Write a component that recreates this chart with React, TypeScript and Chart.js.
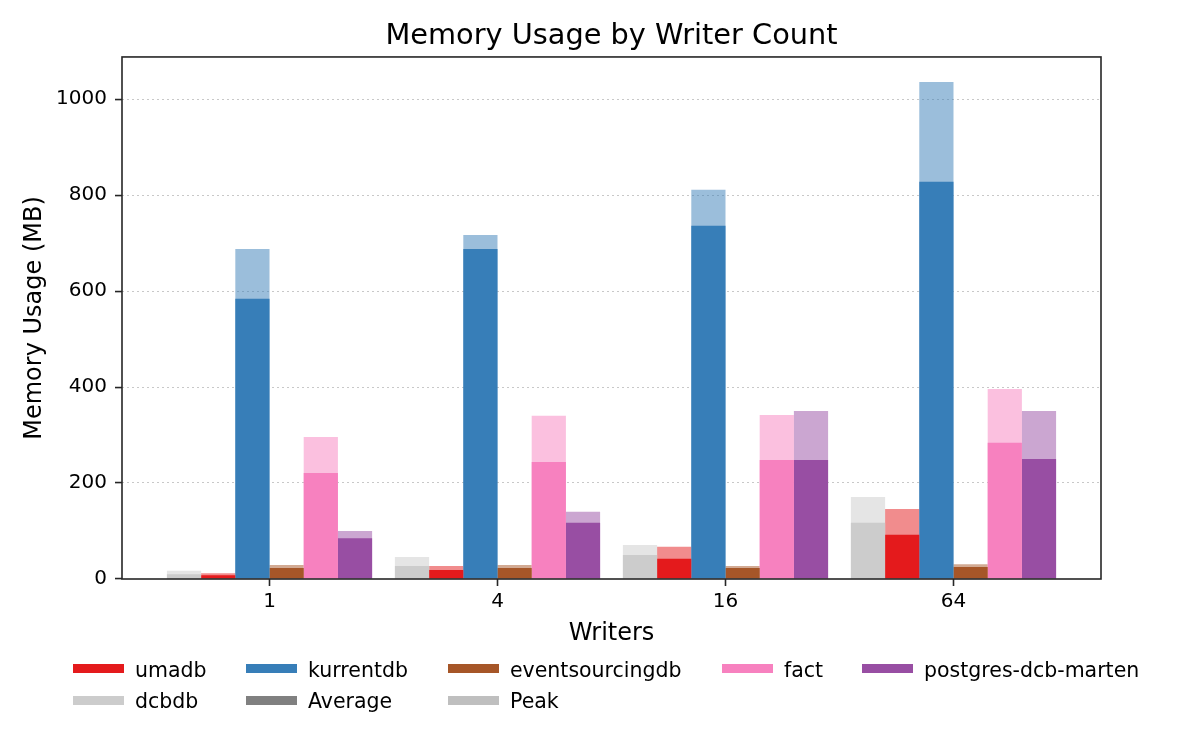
import React, { useEffect, useRef } from "react";
import { Chart, registerables } from "chart.js";

Chart.register(...registerables);

// x categories (writer count)
const writers = ["1", "4", "16", "64"];

// series, in bar order inside each group
const seriesNames = ["dcbdb", "umadb", "kurrentdb", "eventsourcingdb", "fact", "postgres-dcb-marten"];

// memory usage in MB, average and peak
const dcbdbAvg = [10, 27, 50, 117];
const dcbdbPeak = [17, 46, 71, 171];
const umadbAvg = [8, 19, 42, 92];
const umadbPeak = [12, 27, 67, 146];
const kurrentdbAvg = [584, 688, 736, 828];
const kurrentdbPeak = [688, 717, 811, 1036];
const eventsourcingdbAvg = [23, 23, 23, 25];
const eventsourcingdbPeak = [29, 29, 27, 31];
const factAvg = [221, 244, 248, 284];
const factPeak = [296, 340, 342, 396];
const martenAvg = [85, 117, 248, 250];
const martenPeak = [100, 140, 350, 350];

const yTicks = [0, 200, 400, 600, 800, 1000];

const avgValues = [dcbdbAvg, umadbAvg, kurrentdbAvg, eventsourcingdbAvg, factAvg, martenAvg];
const peakValues = [dcbdbPeak, umadbPeak, kurrentdbPeak, eventsourcingdbPeak, factPeak, martenPeak];

// rgb triplets for each series (Set1-ish palette)
const seriesColors = ["204, 204, 204", "228, 26, 28", "55, 126, 184", "166, 86, 40", "247, 129, 191", "152, 78, 163"];

// legend, laid out in matplotlib's 5 columns
const legendColumns = [73, 246, 448, 722, 862];
const legendRows = [
	[
		{ label: "umadb", color: "rgb(228, 26, 28)" },
		{ label: "kurrentdb", color: "rgb(55, 126, 184)" },
		{ label: "eventsourcingdb", color: "rgb(166, 86, 40)" },
		{ label: "fact", color: "rgb(247, 129, 191)" },
		{ label: "postgres-dcb-marten", color: "rgb(152, 78, 163)" },
	],
	[
		{ label: "dcbdb", color: "rgb(204, 204, 204)" },
		{ label: "Average", color: "#808080" },
		{ label: "Peak", color: "#bfbfbf" },
	],
];

const FONT = "'DejaVu Sans', 'Liberation Sans', sans-serif";
const AXIS_COLOR = "#262626";

// draws the full box around the plot area like matplotlib's spines
const framePlugin = {
	id: "frame",
	afterDatasetsDraw(chart: any) {
		const { ctx, chartArea: a } = chart;
		ctx.save();
		ctx.strokeStyle = AXIS_COLOR;
		ctx.lineWidth = 1.6;
		ctx.strokeRect(a.left, a.top, a.right - a.left, a.bottom - a.top);
		ctx.restore();
	},
};

function MemoryChart() {
	const canvasRef = useRef<HTMLCanvasElement>(null);
	const chartInstance = useRef<Chart | null>(null);

	useEffect(() => {
		if (chartInstance.current) {
			chartInstance.current.destroy();
			chartInstance.current = null;
		}
		if (!canvasRef.current) return;
		const ctx = canvasRef.current.getContext("2d");
		if (!ctx) return;

		Chart.defaults.font.family = FONT;

		const toPoints = (vals: number[]) => vals.map((y, i) => ({ x: i, y }));

		// average bars first so they are drawn on top of the peaks
		const avgSets = seriesNames.map((name, s) => ({
			label: name + " average",
			data: toPoints(avgValues[s]),
			backgroundColor: `rgb(${seriesColors[s]})`,
			stack: name,
			borderWidth: 0,
		}));
		const peakSets = seriesNames.map((name, s) => ({
			label: name + " peak",
			data: toPoints(peakValues[s]),
			backgroundColor: `rgba(${seriesColors[s]}, 0.5)`,
			stack: name,
			borderWidth: 0,
		}));

		const config: any = {
			type: "bar",
			data: { datasets: [...avgSets, ...peakSets] },
			options: {
				responsive: false,
				animation: false,
				categoryPercentage: 0.9,
				barPercentage: 1.0,
				layout: { padding: { left: 0, right: 99, top: 0, bottom: 91 } },
				plugins: {
					legend: { display: false },
					tooltip: { enabled: false },
					title: {
						display: true,
						text: "Memory Usage by Writer Count",
						color: "#000",
						fullSize: false,
						font: { size: 28.8, weight: "normal", family: FONT },
						padding: { top: 19.3, bottom: 3.1 },
					},
				},
				scales: {
					x: {
						type: "linear",
						min: -0.647,
						max: 3.647,
						offset: false,
						afterBuildTicks: (scale: any) => {
							scale.ticks = writers.map((_, i) => ({ value: i }));
						},
						afterFit: (scale: any) => {
							scale.height = 80;
						},
						ticks: {
							color: "#000",
							font: { size: 20, family: FONT },
							padding: 4,
							maxRotation: 0,
							autoSkip: false,
							callback: (v: number) => writers[v] ?? "",
						},
						grid: {
							offset: false,
							drawOnChartArea: false,
							drawTicks: true,
							tickLength: 7,
							tickWidth: 1.6,
							tickColor: AXIS_COLOR,
						},
						border: { display: false },
						title: {
							display: true,
							text: "Writers",
							color: "#000",
							font: { size: 24, family: FONT },
							padding: { top: 0, bottom: 11 },
						},
					},
					y: {
						type: "linear",
						stacked: false,
						min: 0,
						max: 1088,
						afterBuildTicks: (scale: any) => {
							scale.ticks = yTicks.map((v) => ({ value: v }));
						},
						afterFit: (scale: any) => {
							scale.width = 122;
						},
						ticks: {
							color: "#000",
							font: { size: 20, family: FONT },
							padding: 8,
							callback: (v: number) => String(v),
						},
						grid: {
							color: (c: any) => (c.tick && c.tick.value === 0 ? "rgba(0,0,0,0)" : "#c8c8c8"),
							lineWidth: 1.1,
							drawTicks: true,
							tickLength: 7,
							tickWidth: 1.6,
							tickColor: AXIS_COLOR,
						},
						border: { display: false, dash: [2, 3] },
						title: {
							display: true,
							text: "Memory Usage (MB)",
							color: "#000",
							font: { size: 24, family: FONT },
							padding: { top: 20, bottom: 0 },
						},
					},
				},
			},
			plugins: [framePlugin],
		};

		chartInstance.current = new Chart(ctx, config);

		return () => {
			if (chartInstance.current) {
				chartInstance.current.destroy();
				chartInstance.current = null;
			}
		};
	}, []);

	return (
		<div style={{ position: "absolute", left: 0, top: 0, width: 1200, height: 750, background: "#fff" }}>
			<canvas ref={canvasRef} width={1200} height={750} style={{ display: "block" }}></canvas>
			{legendRows.map((row, r) =>
				row.map((item, c) => (
					<div key={item.label}>
						<div
							style={{
								position: "absolute",
								left: legendColumns[c],
								top: 664 + r * 31.5,
								width: 51,
								height: 9,
								background: item.color,
							}}
						/>
						<div
							style={{
								position: "absolute",
								left: legendColumns[c] + 62,
								top: 657.5 + r * 31,
								fontFamily: FONT,
								fontSize: 20.5,
								lineHeight: "24px",
								color: "#000",
								whiteSpace: "nowrap",
							}}
						>
							{item.label}
						</div>
					</div>
				))
			)}
		</div>
	);
}

export default function App() {
	return <MemoryChart />;
}
